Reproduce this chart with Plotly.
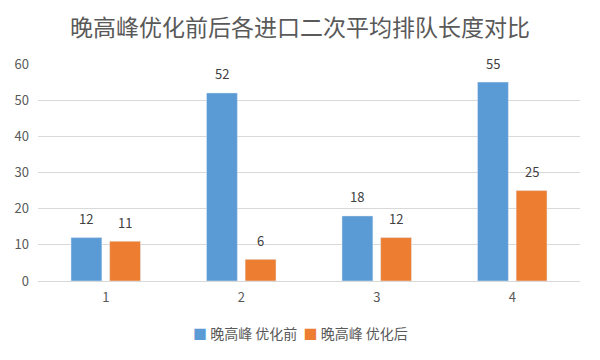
import plotly.graph_objects as go

categories = ["1", "2", "3", "4"]
before = [12, 52, 18, 55]
after = [11, 6, 12, 25]
series_names = ["晚高峰 优化前", "晚高峰 优化后"]
colors = ["#5B9BD5", "#ED7D31"]
title = "晚高峰优化前后各进口二次平均排队长度对比"

FONT = "Noto Sans CJK SC, Microsoft YaHei, sans-serif"

fig = go.Figure()
for vals, name, col in zip([before, after], series_names, colors):
    fig.add_trace(go.Bar(x=categories, y=vals, name=name, marker_color=col, showlegend=False))

# data labels (offset to each bar within its group)
for vals, shift in zip([before, after], [-19.5, 19.5]):
    for i, v in enumerate(vals):
        fig.add_annotation(x=i, y=v, text=str(v), showarrow=False, xshift=shift,
                           yshift=19, font=dict(size=13, color="#404040", family=FONT))

# page body has an 8px margin, so the figure is offset by 8px
fig.update_layout(
    width=600, height=360,
    margin=dict(l=30, r=28, t=56, b=87, autoexpand=False),
    paper_bgcolor="white", plot_bgcolor="white",
    font=dict(family=FONT, color="#595959", size=12),
    title=dict(text=title, xref="container", x=292/600, xanchor="center",
               yref="container", y=1 - 20/360, yanchor="middle",
               font=dict(size=23, color="#595959", family=FONT)),
    barmode="group", bargap=0.43, bargroupgap=0.2,
    showlegend=False,
    xaxis=dict(type="category", showgrid=False, showline=True, linecolor="#D9D9D9", ticks="",
               ticklabelstandoff=4,
               tickfont=dict(size=13, color="#595959"), automargin=False),
    yaxis=dict(range=[0, 60], dtick=10, showgrid=True, gridcolor="#D9D9D9",
               zeroline=False, showline=False, ticks="", ticklabelstandoff=8,
               tickfont=dict(size=13, color="#595959"), automargin=False),
)

# legend drawn as annotations
legend_text = "  ".join(
    f"<span style='color:{col}'>■</span> {name}" for name, col in zip(series_names, colors)
)
fig.add_annotation(text=legend_text, xref="paper", yref="paper", x=(292 - 30) / 542, y=-52/217,
                   xanchor="center", yanchor="middle", showarrow=False,
                   font=dict(size=14, color="#595959", family=FONT))

fig.write_html("out.html")
